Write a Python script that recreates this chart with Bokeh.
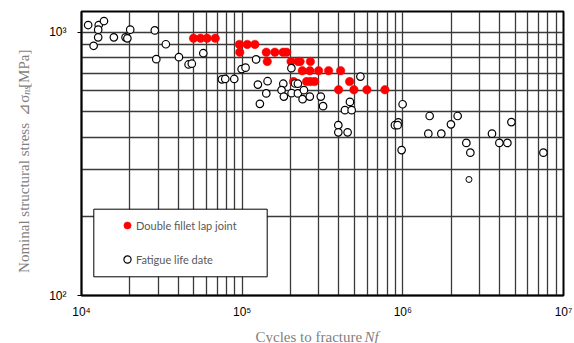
import math
from bokeh.plotting import figure
from bokeh.layouts import column, row
from bokeh.models import (FixedTicker, CustomJSTickFormatter, Label, Legend,
                          LegendItem, BoxAnnotation, Range1d)
from bokeh.embed import file_html
from bokeh.resources import INLINE

# ---- data ----
lap_cycles = [49800, 55100, 60500, 68000, 96100, 107600, 120000, 96600, 141300,
              159800, 179800, 189000, 143300, 201600, 222900, 229400, 265800,
              236700, 264000, 299100, 345100, 410000, 208900, 251800, 266600,
              282300, 466400, 398300, 496000, 597600, 773500]
lap_stress = [950, 950, 950, 950, 900, 900, 900, 840, 840, 840, 840, 840,
              775, 775, 775, 775, 775, 715, 715, 715, 715, 715,
              650, 650, 650, 650, 650, 605, 605, 605, 605]

life_cycles = [11000, 12800, 13800, 12700, 12700, 11900, 15900, 18800, 19300,
               20100, 28600, 33500, 29200, 40400, 46400, 48600, 57300, 74800,
               78500, 89300, 99200, 105000, 122100, 125300, 143900, 141300,
               128900, 202500, 180300, 175900, 181800, 213500, 222300, 203000,
               222300, 242300, 237800, 263600, 308600, 318900, 544500, 468500,
               436100, 480100, 396700, 396700, 453200, 997200, 937600, 892900,
               928500, 982900, 1469000, 1441000, 1736000, 1993000, 2194000,
               2485000, 2632000, 3588000, 4739000, 3990000, 4475000, 7499000]
life_stress = [1066, 1066, 1104, 1024, 957, 889, 957, 957, 949, 1024, 1017, 901,
               791, 805, 755, 760, 833, 663, 665, 665, 725, 734, 789, 633, 652,
               586, 535, 731, 638, 603, 570, 639, 638, 587, 586, 603, 557, 570,
               570, 524, 679, 544, 506, 506, 444, 417, 417, 533, 455, 444, 444,
               357, 481, 412, 412, 447, 481, 380, 349, 412, 456, 380, 380, 349]

extra_cycles = [2580000]
extra_stress = [276]

x_major = [1e4, 1e5, 1e6, 1e7]
y_major = [100, 1000]
x_grid = [m * 10 ** e for e in (4, 5, 6) for m in range(1, 10)][1:]
y_grid = [200, 300, 400, 500, 600, 700, 800, 900, 1000]

legend_labels = ["Double fillet lap joint", "Fatigue life date"]
x_title = ["Cycles to fracture ", "Nf"]
y_title = ["Nominal structural stress", "\u22bf\u03c3", "ns", "[MPa]"]

# ---- sizes ----
YW = 40          # width of the y-title strip
PH = 321         # height of the main figure
XH = 343 - PH    # height of the x-title strip
W = 574

# ---- main figure ----
p = figure(width=W - YW, height=PH, x_axis_type="log", y_axis_type="log",
           x_range=(1e4, 1e7), y_range=(100, 1200), title=None,
           output_backend="svg", toolbar_location=None,
           min_border_left=81 - YW, min_border_right=11, min_border_top=11,
           min_border_bottom=PH - 297)
p.background_fill_color = "white"
p.border_fill_color = "white"
p.outline_line_color = "black"
p.outline_line_width = 2

p.xgrid.ticker = FixedTicker(ticks=x_grid)
p.ygrid.ticker = FixedTicker(ticks=y_grid)
p.grid.grid_line_color = "#3a3a3a"
p.grid.grid_line_width = 1.3
p.grid.grid_line_alpha = 1

fmt_code = """
const sup = {2: '\u00b2', 3: '\u00b3', 4: '\u2074', 5: '\u2075', 6: '\u2076', 7: '\u2077'};
const e = Math.round(Math.log10(tick));
return '10' + sup[e];
"""
p.xaxis.ticker = FixedTicker(ticks=x_major)
p.yaxis.ticker = FixedTicker(ticks=y_major)
for ax in (p.xaxis[0], p.yaxis[0]):
    ax.formatter = CustomJSTickFormatter(code=fmt_code)
    ax.axis_line_color = "black"
    ax.axis_line_width = 1.5
    ax.minor_tick_line_color = None
    ax.major_tick_in = 0
    ax.major_tick_line_color = "black"
    ax.major_label_text_font = "Liberation Sans"
    ax.major_label_text_font_size = "12px"
    ax.major_label_text_color = "black"
p.xaxis.major_tick_out = 0
p.xaxis.major_label_standoff = 9
p.yaxis.major_tick_out = 4
p.yaxis.major_label_standoff = 11

r_lap = p.scatter(lap_cycles, lap_stress, size=8.5, fill_color="#ff0000",
                  line_color="#ff0000", line_width=0.5)
r_life = p.scatter(life_cycles, life_stress, size=7.5, fill_color="white",
                   line_color="black", line_width=1.2)
p.scatter(extra_cycles, extra_stress, size=6, fill_color="white",
          line_color="black", line_width=1)

# legend box + legend
box = BoxAnnotation(left=12.3, right=185.7, bottom=18.7, top=86.3,
                    left_units="screen", right_units="screen",
                    top_units="screen", bottom_units="screen",
                    fill_color="white", fill_alpha=1,
                    line_color="black", line_alpha=1, line_width=1)
p.add_layout(box)
legend = Legend(items=[LegendItem(label=legend_labels[0], renderers=[r_lap]),
                       LegendItem(label=legend_labels[1], renderers=[r_life])],
                location=(37, 27), padding=0, spacing=16, margin=0,
                glyph_width=18, glyph_height=18, label_height=17,
                label_standoff=0, border_line_alpha=0,
                background_fill_alpha=0,
                label_text_font="Lato", label_text_font_size="11px",
                label_text_color="#595959")
p.add_layout(legend)

gray = "#7f7f7f"
serif = "Liberation Serif"


def strip(w, h):
    f = figure(width=w, height=h, x_range=Range1d(0, w), y_range=Range1d(0, h),
               title=None, output_backend="svg", toolbar_location=None,
               min_border=0, x_axis_location=None, y_axis_location=None)
    f.grid.visible = False
    f.outline_line_color = None
    f.background_fill_color = "white"
    f.border_fill_color = "white"
    return f


# ---- y title strip (pixel coordinates: x from left, y from bottom) ----
# every piece is anchored at its upper end (text_align="right")
fy = strip(YW, PH)
fy.add_layout(Label(x=23, y=PH - 126, text=y_title[0], angle=math.pi / 2,
                    text_font=serif, text_font_size="15px", text_color=gray,
                    text_baseline="alphabetic", text_align="right"))
fy.add_layout(Label(x=23, y=PH - 94, text=y_title[1], angle=math.pi / 2,
                    text_font=serif, text_font_size="15px", text_color=gray,
                    text_baseline="alphabetic", text_align="right"))
fy.add_layout(Label(x=26, y=PH - 84, text=y_title[2], angle=math.pi / 2,
                    text_font=serif, text_font_style="italic",
                    text_font_size="10px", text_color=gray,
                    text_baseline="alphabetic", text_align="right"))
fy.add_layout(Label(x=23, y=PH - 43, text=y_title[3], angle=math.pi / 2,
                    text_font=serif, text_font_size="15px", text_color=gray,
                    text_baseline="alphabetic", text_align="right"))

# ---- x title strip ----
fx = strip(W, XH)
fx.add_layout(Label(x=255, y=7, text=x_title[0], text_font=serif,
                    text_font_size="15px", text_color=gray,
                    text_baseline="alphabetic", text_align="left"))
fx.add_layout(Label(x=364, y=7, text=x_title[1], text_font=serif,
                    text_font_style="italic", text_font_size="15px",
                    text_color=gray, text_baseline="alphabetic",
                    text_align="left"))

layout = column(row(fy, p, spacing=0), fx, spacing=0)
open("out.html", "w").write(file_html(layout, INLINE))
